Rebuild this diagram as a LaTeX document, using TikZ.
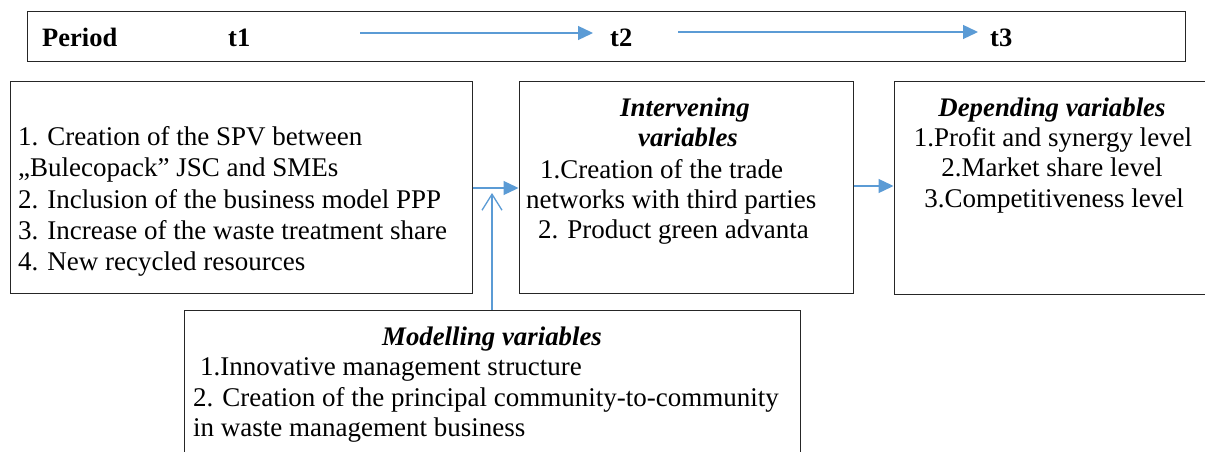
\documentclass[tikz,border=0pt]{standalone}
\usepackage{fontspec}
\setmainfont{Liberation Serif}
\usetikzlibrary{arrows.meta}
\definecolor{arrowblue}{HTML}{5B9BD5}
\tikzset{
  box/.style={draw=black!85, line width=1pt, inner sep=0pt},
  txt/.style={anchor=base west, inner sep=0pt, font=\fontsize{27}{32}\selectfont},
  ctxt/.style={anchor=base, inner sep=0pt, font=\fontsize{27}{32}\selectfont},
  htxt/.style={anchor=base, inner sep=0pt, font=\fontsize{26.8}{32}\selectfont\bfseries\itshape},
  btxt/.style={anchor=base west, inner sep=0pt, font=\fontsize{26.5}{32}\selectfont\bfseries},
  conn/.style={draw=arrowblue, line width=1.3pt, -{Triangle[length=15pt,width=14pt]}},
  openconn/.style={draw=arrowblue, line width=1.3pt, -{Straight Barb[length=16pt,width=20pt,line width=1.3pt]}},
}
\begin{document}
\begin{tikzpicture}[x=1pt,y=-1pt]
\clip (0,0) rectangle (1205,452);
\fill[white] (0,0) rectangle (1205,452);
% top bar
\node[box, minimum width=1158pt, minimum height=50pt] (bar) at (606,37) {};
\node[btxt] (period) at (42,47) {Period};
\node[btxt] (t1) at (228,47) {t1};
\node[btxt] (t2) at (610,47) {t2};
\node[btxt] (t3) at (990,47) {t3};
\coordinate (a1s) at (360,33);
\coordinate (a1e) at (593,33);
\coordinate (a2s) at (678,32);
\coordinate (a2e) at (978,32);
\draw[conn] (a1s) -- (a1e);
\draw[conn] (a2s) -- (a2e);
% left box
\node[box, minimum width=462pt, minimum height=211pt] (left) at (241,187.5) {};
\node[txt] (l1) at (18,145) {1. Creation of the SPV between};
\node[txt] (l2) at (18,176) {„Bulecopack” JSC and SMEs};
\node[txt] (l3) at (18,208) {2. Inclusion of the business model PPP};
\node[txt] (l4) at (18,239) {3. Increase of the waste treatment share};
\node[txt] (l5) at (18,270) {4. New recycled resources};
% middle box
\node[box, minimum width=334pt, minimum height=211pt] (mid) at (686,187.5) {};
\node[htxt] (m0) at (685,116) {Intervening};
\node[htxt] (m1) at (688,146) {variables};
\node[txt] (m2) at (540,178) {1.Creation of the trade};
\node[txt] (m3) at (526,208) {networks with third parties};
\node[txt] (m4) at (538,238) {2. Product green advanta};
% right box
\node[box, minimum width=330pt, minimum height=212pt] (right) at (1059,188) {};
\node[htxt] (r0) at (1052,116) {Depending variables};
\node[ctxt] (r1) at (1053,146) {1.Profit and synergy level};
\node[ctxt] (r2) at (1052,176) {2.Market share level};
\node[ctxt] (r3) at (1054,207) {3.Competitiveness level};
% bottom box
\node[box, minimum width=616pt, minimum height=180pt] (bot) at (492,400) {};
\node[htxt] (b0) at (492,345) {Modelling variables};
\node[txt] (b1) at (200,375) {1.Innovative management structure};
\node[txt] (b2) at (193,406) {2. Creation of the principal community-to-community};
\node[txt] (b3) at (193,436) {in waste management business};
% connectors
\draw[conn] (left.east |- 0,188) -- (mid.west |- 0,188);
\draw[conn] (mid.east |- 0,186) -- (right.west |- 0,186);
\coordinate (vtop) at (492,193);
\draw[openconn] (bot.north -| vtop) -- (vtop);
\end{tikzpicture}
\end{document}
